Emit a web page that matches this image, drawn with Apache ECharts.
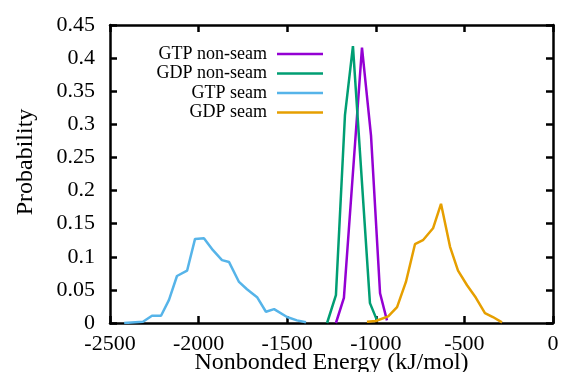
<!DOCTYPE html>
<html>
<head>
<meta charset="utf-8">
<script src="https://cdn.jsdelivr.net/npm/echarts@6/dist/echarts.min.js"></script>
<style>
  html, body { margin: 0; padding: 0; background: #fff; }
  #chart { width: 566px; height: 372px; }
</style>
</head>
<body>
<div id="chart"></div>
<script>
// values
const gtpNonSeamE = [-1225, -1180, -1078, -1027, -976, -937];
const gtpNonSeamP = [0, 0.038, 0.416, 0.283, 0.045, 0.004];

const gdpNonSeamE = [-1275, -1225, -1174, -1129, -1033, -993];
const gdpNonSeamP = [0, 0.042, 0.314, 0.418, 0.030, 0.004];

const gtpSeamE = [-2420, -2314, -2263, -2212, -2167, -2122, -2065, -2020, -1970, -1919,
  -1868, -1828, -1772, -1727, -1670, -1620, -1574, -1501, -1445, -1394];
const gtpSeamP = [0, 0.002, 0.011, 0.011, 0.035, 0.071, 0.079, 0.127, 0.128, 0.110,
  0.095, 0.092, 0.062, 0.051, 0.039, 0.017, 0.021, 0.009, 0.004, 0.001];

const gdpSeamE = [-1050, -1000, -930, -880, -830, -779, -734, -677, -632, -581,
  -536, -485, -435, -384, -339, -288];
const gdpSeamP = [0.002, 0.003, 0.010, 0.024, 0.062, 0.119, 0.125, 0.143, 0.180, 0.115,
  0.079, 0.057, 0.038, 0.015, 0.009, 0.001];

const seriesNames = ['GTP non-seam', 'GDP non-seam', 'GTP seam', 'GDP seam'];
const seriesColors = ['#9400d3', '#009e73', '#56b4e9', '#e69f00'];
const xTicks = { min: -2500, max: 0, step: 500 };
const yTicks = { min: 0, max: 0.45, step: 0.05 };

function pairs(xs, ys) {
  return xs.map((x, i) => [x, ys[i]]);
}
const allData = [
  pairs(gtpNonSeamE, gtpNonSeamP),
  pairs(gdpNonSeamE, gdpNonSeamP),
  pairs(gtpSeamE, gtpSeamP),
  pairs(gdpSeamE, gdpSeamP)
];

const font = 'Liberation Serif';
const axisLine = { show: true, onZero: false, lineStyle: { color: '#000', width: 2.5 } };
const tick = { show: true, inside: true, length: 7, lineStyle: { color: '#000', width: 2.5 } };

let chart = echarts.init(document.getElementById('chart'));
chart.setOption({
  animation: false,
  backgroundColor: '#fff',
  grid: { left: 110, right: 13, top: 25, bottom: 49, containLabel: false, outerBoundsMode: 'none' },
  legend: seriesNames.map((name, i) => ({
    data: [name],
    orient: 'vertical',
    align: 'right',
    right: 243,
    top: 45 + i * 19.5,
    padding: 0,
    icon: 'rect',
    itemWidth: 46,
    itemHeight: 2.5,
    selectedMode: false,
    textStyle: { fontFamily: font, fontSize: 18, color: '#000', padding: [0, 5, 6, 0] }
  })),
  xAxis: [{
    type: 'value',
    min: xTicks.min, max: xTicks.max, interval: xTicks.step,
    name: 'Nonbonded Energy (kJ/mol)',
    nameLocation: 'middle',
    nameGap: 28,
    nameMoveOverlap: false,
    nameTextStyle: { fontFamily: font, fontSize: 24, color: '#000' },
    axisLine: axisLine,
    axisTick: tick,
    axisLabel: { fontFamily: font, fontSize: 22, color: '#000', margin: 10, formatter: v => String(v) },
    splitLine: { show: false }
  }, {
    type: 'value', position: 'top',
    min: xTicks.min, max: xTicks.max, interval: xTicks.step,
    axisLine: axisLine, axisTick: tick,
    axisLabel: { show: false }, splitLine: { show: false }
  }],
  yAxis: [{
    type: 'value',
    min: yTicks.min, max: yTicks.max, interval: yTicks.step,
    name: 'Probability',
    nameLocation: 'middle',
    nameGap: 72,
    nameMoveOverlap: false,
    nameTextStyle: { fontFamily: font, fontSize: 24, color: '#000', padding: [0, 0, 0, 24] },
    axisLine: axisLine,
    axisTick: tick,
    axisLabel: { fontFamily: font, fontSize: 22, color: '#000', margin: 15 },
    splitLine: { show: false }
  }, {
    type: 'value', position: 'right',
    min: yTicks.min, max: yTicks.max, interval: yTicks.step,
    axisLine: axisLine, axisTick: tick,
    axisLabel: { show: false }, splitLine: { show: false }
  }],
  series: seriesNames.map((name, i) => ({
    name: name,
    type: 'line',
    data: allData[i],
    symbol: 'none',
    color: seriesColors[i],
    lineStyle: { width: 2.5, color: seriesColors[i] }
  }))
});
</script>
</body>
</html>
